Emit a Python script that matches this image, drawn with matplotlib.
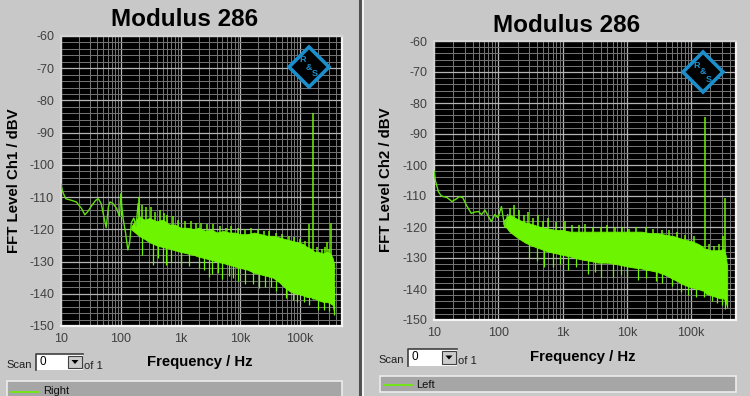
import numpy as np
import matplotlib
matplotlib.use('Agg')
import matplotlib.pyplot as plt
from matplotlib.patches import Polygon, Rectangle
from matplotlib.lines import Line2D
from matplotlib.ticker import LogLocator, MultipleLocator, NullFormatter

plt.rcParams['font.family'] = ['Liberation Sans', 'DejaVu Sans']
plt.rcParams['axes.unicode_minus'] = False

x_ticks = [10, 100, 1e3, 1e4, 1e5]
x_tick_labels = ['10', '100', '1k', '10k', '100k']
y_ticks = list(range(-150, -59, 10))

# Ch1 ("Right") - low frequency trace
lf1_freq = [10, 10.5, 12, 15, 18, 22, 25, 28, 33, 38, 42, 47, 52, 57, 62, 66, 74,
            85, 95, 100, 104, 110, 120, 131, 141, 150, 165, 180, 195, 210]
lf1_db = [-106, -108, -110.5, -111, -111.5, -113.5, -115.5, -114.5, -112.5, -111, -110.5,
          -112, -116, -119.5, -113, -111.5, -112, -113.5, -116, -109, -113, -117, -121,
          -126.4, -124, -118, -116.5, -119, -112, -118]
# Ch1 noise band (upper / lower envelope)
band1_freq = [150, 200, 250, 300, 400, 500, 650, 800, 1000, 1300, 1700, 2000, 2600, 3300,
              4000, 5200, 6500, 8000, 10000, 13000, 17000, 22000, 28000, 35000, 45000,
              55000, 70000, 90000, 110000, 130000, 150000, 160000, 175000, 200000, 240000,
              280000, 320000, 350000, 370000]
band1_hi = [-119, -116, -117, -116.5, -117.5, -117, -118.5, -118.5, -119.5, -119.5, -120,
            -119.5, -120.5, -120, -121, -120.5, -121, -121, -121.5, -121.5, -121, -121.5,
            -122, -122, -122.5, -123, -123.5, -124, -124.5, -125.5, -126, -126.5, -127,
            -127, -127.5, -127, -127.5, -129, -131]
band1_lo = [-120, -122, -123, -124, -125, -125.5, -126, -126.5, -127, -127.5, -128,
            -128.5, -129, -129.5, -130, -130.5, -131, -131.5, -132, -132.5, -133.5, -134,
            -134.5, -135, -136.5, -138, -139.5, -140, -140.5, -141, -141, -141.5, -141.5,
            -142, -142.5, -142.5, -143, -143.5, -146]
up1_freq = [200, 230, 260, 320, 380, 450, 520, 600, 750, 900, 1200, 1500, 1800, 2200,
            2800, 3500, 4500, 5800, 7000, 9000, 12000, 15000, 20000, 25000, 30000, 40000,
            50000, 65000, 80000, 100000, 120000, 140000, 165000, 190000, 230000, 260000,
            280000, 300000, 330000]
up1_db = [-110, -112.5, -113, -113, -114.5, -114, -115, -115.5, -116, -117, -117.5,
          -117.5, -118, -118, -118.5, -118.5, -119, -119.5, -119, -119.5, -120, -119.5,
          -120, -120.5, -120.5, -121, -121.5, -122, -122.5, -123, -123.5, -118.5, -84,
          -125.5, -126, -125.5, -124, -126, -118]
dn1_freq = [230, 350, 420, 500, 560, 700, 1000, 1400, 2000, 2500, 3000, 3300, 4200, 5000,
            6500, 7500, 9000, 12000, 16000, 20800, 26000, 32000, 40000, 58000, 75000, 90000,
            115000, 140000, 200000, 250000, 300000, 365000]
dn1_db = [-128, -131, -129, -130, -131, -130, -131, -131.5, -132, -132.5, -134.7, -134,
          -133.5, -135.5, -134.5, -135, -136, -137, -137, -138.3, -138, -138, -139, -141.4,
          -142, -142.5, -142.5, -143.5, -145, -145, -145.5, -146.5]

# Ch2 ("Left") - low frequency trace
lf2_freq = [10, 10.5, 11.7, 13, 16, 19, 22, 25, 28, 32, 38, 43, 49, 55, 62, 70, 78, 88,
            99, 112, 126, 140]
lf2_db = [-102, -105, -108.6, -110, -110.5, -111.8, -111, -110.2, -110.5, -113, -115.6,
          -115.2, -115, -116, -114.5, -116.5, -118.3, -116, -117, -113.4, -120, -116]
band2_freq = [120, 150, 200, 260, 330, 450, 600, 800, 1000, 1300, 1600, 2000, 2800, 3500,
              5000, 7000, 9000, 12000, 17000, 23000, 30000, 40000, 55000, 75000, 100000,
              130000, 150000, 158000, 170000, 200000, 240000, 280000, 320000, 345000, 365000]
band2_hi = [-118, -116, -117.5, -118.5, -119, -120, -120.5, -121, -121, -121.5, -121.5,
            -121.5, -121.5, -121.5, -121.5, -121.5, -121.5, -121.5, -121.5, -122, -122,
            -122.5, -123, -124, -124.5, -125.5, -126.3, -127, -127, -127.5, -127.5, -127.5,
            -127, -129, -133]
band2_lo = [-119, -121.5, -123.5, -125, -126, -127, -128, -128.5, -129, -129.5, -130,
            -130.5, -131, -131.5, -131.5, -132, -132.5, -133, -133.4, -134, -134.5, -135.5,
            -137, -138.5, -139.5, -140, -140.5, -140.5, -141.5, -142, -142.5, -143, -143,
            -144, -146]
up2_freq = [150, 175, 210, 250, 290, 350, 420, 500, 600, 800, 1100, 1400, 1800, 2200,
            3000, 4000, 5000, 6500, 8500, 11000, 14000, 20000, 26000, 35000, 45000, 60000,
            80000, 110000, 162000, 190000, 230000, 270000, 310000, 335000]
up2_db = [-114, -113, -114.5, -116, -115, -117, -116, -118, -117, -118.5, -118, -119.5,
          -119.5, -119, -120, -120, -119.5, -120, -120, -120.5, -120, -120, -120.5, -121,
          -121, -121.5, -122.5, -123, -84.4, -125.5, -126, -125.5, -123, -110.5]
dn2_freq = [300, 400, 510, 700, 900, 1200, 1600, 2500, 3200, 4000, 6000, 8000, 10000,
            15000, 20000, 28000, 35000, 50000, 70000, 90000, 120000, 160000, 210000, 250000,
            300000, 340000]
dn2_db = [-130, -131, -133, -133, -132, -134, -133, -135, -134.5, -136, -136, -135.5,
          -136, -137, -136.5, -137.5, -138, -139, -141, -142, -142.5, -142.5, -144, -144.5,
          -145, -146.5]

W, H = 750, 396
BG = '#c8c8c8'
GREEN = '#6cf400'
LOGO = '#1b8fcc'


def fx(x):
    return x / W


def fy(y):
    return 1 - y / H


def rect(l, t, r, b):
    return [fx(l), fy(b), (r - l) / W, (b - t) / H]


fig = plt.figure(figsize=(W / 100, H / 100), dpi=100, facecolor=BG)


def draw_panel(box, lf_f, lf_db, bf, bhi, blo, uf, udb, df, ddb):
    ax = fig.add_axes(rect(*box))
    ax.set_facecolor('black')
    ax.set_xscale('log')
    ax.set_xlim(10, 5e5)
    ax.set_ylim(-150, -60)
    ax.set_xticks(x_ticks)
    ax.set_xticklabels(x_tick_labels)
    ax.xaxis.set_minor_locator(LogLocator(base=10, subs=np.arange(2, 10)))
    ax.xaxis.set_minor_formatter(NullFormatter())
    ax.set_yticks(y_ticks)
    ax.yaxis.set_minor_locator(MultipleLocator(2))
    ax.tick_params(which='both', length=0, labelsize=9, labelcolor='#404040', pad=5)
    ax.grid(which='major', color='#b4b4b4', lw=0.9)
    ax.grid(which='minor', color='#767676', lw=0.7)
    ax.set_axisbelow(True)
    for s in ['left', 'top']:
        ax.spines[s].set_color('#d4d4d4')
    for s in ['right', 'bottom']:
        ax.spines[s].set_color('#f4f4f4')
    for s in ax.spines.values():
        s.set_linewidth(1.6)

    lbf = np.log10(bf)
    ax.fill_between(bf, blo, bhi, color=GREEN, lw=0.6, zorder=3)
    ax.plot(lf_f, lf_db, color='#62e010', lw=1.0, zorder=3)
    mid = (np.array(bhi) + np.array(blo)) / 2
    ax.vlines(uf, np.interp(np.log10(uf), lbf, mid), udb, color=GREEN, lw=1.1, zorder=3)
    ax.vlines(df, np.interp(np.log10(df), lbf, mid), ddb, color=GREEN, lw=0.9, zorder=3)
    return ax


def draw_logo(cx, cy, r=20):
    pts = [(fx(cx), fy(cy - r)), (fx(cx + r), fy(cy)), (fx(cx), fy(cy + r)), (fx(cx - r), fy(cy))]
    fig.add_artist(Polygon(pts, closed=True, facecolor='black', edgecolor=LOGO, lw=2.6,
                           transform=fig.transFigure, zorder=5))
    for dx, dy, ch in [(-6, -7, 'R'), (0, 0, '&'), (6, 7, 'S')]:
        fig.text(fx(cx + dx), fy(cy + dy), ch, color=LOGO, fontsize=6.5, fontweight='bold',
                 ha='center', va='center', zorder=6)


def draw_scan(x0, y0, bx0, by0, bx1, by1):
    fig.text(fx(x0), fy(y0), 'Scan', fontsize=8, color='#202020', ha='left', va='center')
    fig.text(fx(bx1 + 1.5), fy(y0 + 1), 'of 1', fontsize=8, color='#202020', ha='left',
             va='center')
    fig.add_artist(Rectangle((fx(bx0), fy(by1)), (bx1 - bx0) / W, (by1 - by0) / H,
                             facecolor='white', edgecolor='none', transform=fig.transFigure))
    fig.add_artist(Line2D([fx(bx0), fx(bx0), fx(bx1)], [fy(by1), fy(by0), fy(by0)],
                          color='#404040', lw=1.2, transform=fig.transFigure))
    fig.text(fx(bx0 + 3), fy((by0 + by1) / 2), '0', fontsize=8.5, color='black',
             ha='left', va='center')
    fig.add_artist(Rectangle((fx(bx1 - 15), fy(by1 - 2)), 14 / W, (by1 - by0 - 4) / H,
                             facecolor='#cccccc', edgecolor='#404040', lw=0.8,
                             transform=fig.transFigure))
    tc = bx1 - 8
    ym = (by0 + by1) / 2
    fig.add_artist(Polygon([(fx(tc - 3.5), fy(ym - 2)), (fx(tc + 3.5), fy(ym - 2)),
                            (fx(tc), fy(ym + 2))], closed=True, facecolor='black',
                           edgecolor='none', transform=fig.transFigure))


def draw_legend(l, t, r, b, name):
    fig.add_artist(Rectangle((fx(l), fy(b)), (r - l) / W, (b - t) / H, facecolor='#a6a6a6',
                             edgecolor='#ececec', lw=1.2, transform=fig.transFigure))
    ym = (t + b) / 2 + 1
    fig.add_artist(Line2D([fx(l + 4), fx(l + 32)], [fy(ym), fy(ym)], color='#6cf000',
                          lw=1.2, transform=fig.transFigure))
    fig.text(fx(l + 36), fy(ym), name, fontsize=8, color='#101010', ha='left', va='center')


# left screen (Ch1)
draw_panel((61, 36, 342, 326), lf1_freq, lf1_db, band1_freq, band1_hi, band1_lo,
           up1_freq, up1_db, dn1_freq, dn1_db)
fig.text(fx(185), fy(20), 'Modulus 286', fontsize=17.5, fontweight='bold', ha='center',
         va='center')
fig.text(fx(14), fy(181), 'FFT Level Ch1 / dBV', fontsize=10.8, fontweight='bold',
         rotation=90, ha='center', va='center')
fig.text(fx(200), fy(362), 'Frequency / Hz', fontsize=10.7, fontweight='bold',
         ha='center', va='center')
draw_logo(309, 67)
draw_scan(6, 365, 36, 354, 83, 370)
draw_legend(7, 381, 342, 400, 'Right')

# right screen (Ch2)
draw_panel((434, 41, 736, 320), lf2_freq, lf2_db, band2_freq, band2_hi, band2_lo,
           up2_freq, up2_db, dn2_freq, dn2_db)
fig.text(fx(567), fy(25), 'Modulus 286', fontsize=17.5, fontweight='bold', ha='center',
         va='center')
fig.text(fx(386), fy(180), 'FFT Level Ch2 / dBV', fontsize=10.8, fontweight='bold',
         rotation=90, ha='center', va='center')
fig.text(fx(583), fy(357), 'Frequency / Hz', fontsize=10.7, fontweight='bold',
         ha='center', va='center')
draw_logo(703, 72)
draw_scan(378, 360, 408, 349, 457, 366)
draw_legend(380, 376, 736, 392, 'Left')

# divider between the two screens
fig.add_artist(Line2D([fx(359.5), fx(359.5)], [0, 1], color='#505050', lw=2.2,
                      transform=fig.transFigure))
fig.add_artist(Line2D([fx(363), fx(363)], [0, 1], color='#f2f2f2', lw=1.5,
                      transform=fig.transFigure))

fig.savefig('out.png', dpi=100, facecolor=BG)
